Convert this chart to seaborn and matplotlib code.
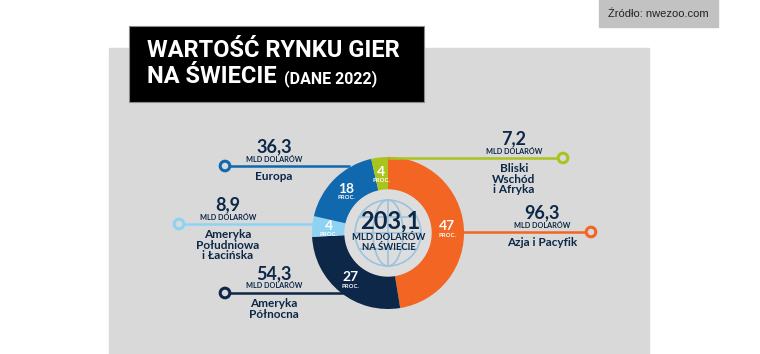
import numpy as np
import pandas as pd
import seaborn as sns
import matplotlib.pyplot as plt
from matplotlib.patches import Rectangle, Circle, Ellipse

# ------------------------------------------------------------
# data (mld dolarow, 2022)
# ------------------------------------------------------------
regions = ["Azja i Pacyfik", "Ameryka\nPółnocna", "Ameryka\nPołudniowa\ni Łacińska",
           "Europa", "Bliski\nWschód\ni Afryka"]
values = [96.3, 54.3, 8.9, 36.3, 7.2]
total_label = "203,1"
colors = ["#f26522", "#0c2747", "#8fd3f4", "#1068ae", "#a9c51d"]

# layout, pixels measured from the top-left corner
W, H = 760, 354
CX, CY, R, RING = 388, 233, 76, 33
marker_x = [591, 225, 179, 225, 563]
line_y = [232, 293, 224, 166, 158]
line_start_x = [461, 343, 313, 350, 388]

NAVY = "#0c2747"
BG = "#d9d9d9"
FONT = ["Lato", "DejaVu Sans"]

sns.set_theme(style="white")
plt.rcParams["font.family"] = FONT


def Y(py):
    return H - py


fig = plt.figure(figsize=(W / 100, H / 100), dpi=100)
ax = fig.add_axes([0, 0, 1, 1])
ax.set_xlim(0, W)
ax.set_ylim(0, H)

# background panels
ax.add_patch(Rectangle((109, Y(354)), 540, 306, color=BG, zorder=0))
ax.add_patch(Rectangle((599, Y(27)), 119, 27, color="#c2c2c2", zorder=0))
ax.text(658.5, Y(14), "Źródło: nwezoo.com", ha="center", va="center",
        fontsize=8, color="#222222", family=["Liberation Sans", "DejaVu Sans"])

# title box
ax.add_patch(Rectangle((129, Y(102)), 295, 76, facecolor="black",
                       edgecolor="#8a8a8a", lw=0.8, zorder=1))
tfam = ["Roboto", "DejaVu Sans"]
ax.text(147, Y(57), "WARTOŚĆ RYNKU GIER", color="white", fontsize=17,
        fontweight="bold", family=tfam, va="baseline", zorder=2)
t2 = ax.text(147, Y(83), "NA ŚWIECIE", color="white", fontsize=17,
             fontweight="bold", family=tfam, va="baseline", zorder=2)
fig.canvas.draw()
bb = t2.get_window_extent()
ax.text(bb.x1 + 7, Y(83), "(DANE 2022)", color="white", fontsize=11.5,
        fontweight="bold", family=tfam, va="baseline", zorder=2)

# donut
ax.pie(values, colors=colors, startangle=90, counterclock=False, radius=R,
       center=(CX, Y(CY)), wedgeprops=dict(width=RING, linewidth=0), frame=True)
for w in ax.patches[-len(values):]:
    w.set_zorder(3)

# inner disc with globe
ax.add_patch(Circle((CX, Y(CY)), R - RING, color="#dddddd", zorder=3))
gcol = "#9cc2dc"
ax.add_patch(Circle((CX, Y(CY)), 33, fill=False, ec=gcol, lw=1.2, zorder=4))
ax.add_patch(Ellipse((CX, Y(CY)), 30, 66, fill=False, ec=gcol, lw=1.2, zorder=4))
ax.plot([CX, CX], [Y(CY - 33), Y(CY + 33)], color=gcol, lw=1.2, zorder=4)
for dy in (-16, 0, 16):
    hw = np.sqrt(33 ** 2 - dy ** 2)
    ax.plot([CX - hw, CX + hw], [Y(CY + dy)] * 2, color=gcol, lw=1.2, zorder=4)

ax.text(CX + 2, Y(221), total_label, ha="center", va="center", fontsize=17,
        fontweight="bold", color=NAVY, zorder=5)
ax.text(CX + 1, Y(237), "MLD DOLARÓW", ha="center", va="center", fontsize=6.8,
        fontweight="bold", color=NAVY, zorder=5)
ax.text(CX + 1, Y(247.5), "NA ŚWIECIE", ha="center", va="center", fontsize=6.8,
        fontweight="bold", color=NAVY, zorder=5)

# percentage labels in the ring
vals = np.array(values)
share = vals / vals.sum()
mid = 2 * np.pi * (np.cumsum(share) - share / 2)
rm = R - RING / 2
for s, a in zip(share, mid):
    px = CX + rm * np.sin(a)
    py = CY - rm * np.cos(a)
    ax.text(px, Y(py - 2), f"{round(s * 100)}", ha="center", va="center",
            fontsize=10, fontweight="bold", color="white", zorder=6)
    ax.text(px, Y(py + 7), "PROC.", ha="center", va="center",
            fontsize=4.3, fontweight="bold", color="white", zorder=6)

# leader lines, end markers and labels
for i, (name, v) in enumerate(zip(regions, values)):
    ly = Y(line_y[i])
    ax.plot([line_start_x[i], marker_x[i]], [ly, ly], color=colors[i], lw=1.8,
            zorder=5 if i == 4 else 2, solid_capstyle="butt")
    side = 1 if marker_x[i] < CX else -1
    tx = marker_x[i] + side * 49
    ax.text(tx, Y(line_y[i] - 19.5), f"{v:.1f}".replace(".", ","), ha="center",
            va="center", fontsize=13, fontweight="bold", color=NAVY, zorder=6)
    ax.text(tx, Y(line_y[i] - 7), "MLD DOLARÓW", ha="center", va="center",
            fontsize=5.2, fontweight="bold", color=NAVY, zorder=6)
    ax.text(tx, Y(line_y[i] + 5), name, ha="center", va="top",
            fontsize=8.5, fontweight="bold", color=NAVY, linespacing=0.95,
            zorder=6)

markers = pd.DataFrame({"x": marker_x, "y": [Y(v) for v in line_y],
                        "region": regions})
sns.scatterplot(data=markers, x="x", y="y", hue="region", palette=colors,
                s=48, facecolor=BG, linewidth=2.2, legend=False, ax=ax,
                zorder=7)
for coll in ax.collections:
    coll.set_facecolor(BG)
    coll.set_edgecolor(colors)

ax.set_xlim(0, W)
ax.set_ylim(0, H)
ax.set_aspect("equal")
ax.axis("off")
fig.savefig("out.png", dpi=100, facecolor="white")
